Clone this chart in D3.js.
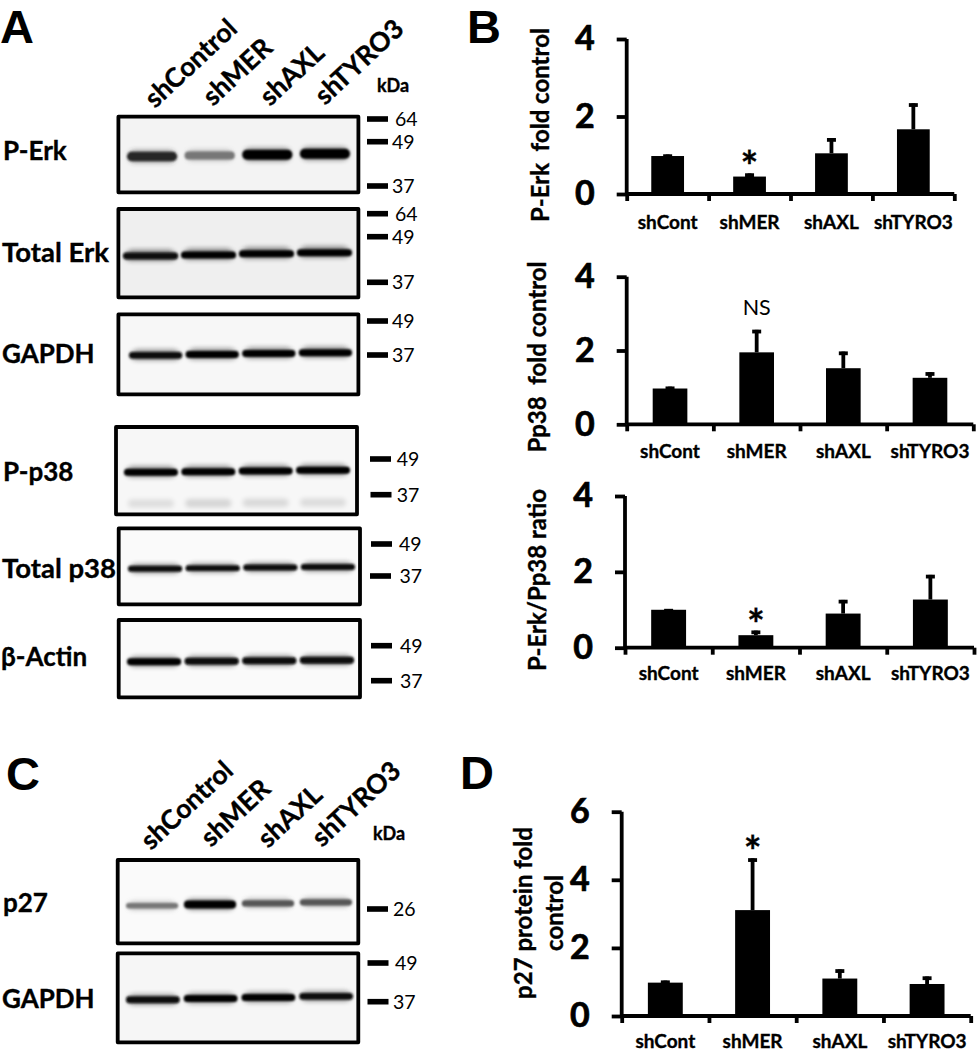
<!DOCTYPE html>
<html><head><meta charset="utf-8">
<style>
html,body{margin:0;padding:0;background:#fff}
svg{display:block}
text{font-family:Lato,"Open Sans",sans-serif;fill:#000;white-space:pre}
.b{font-weight:700;stroke:#000;stroke-width:.35px}
.l{font-family:"Liberation Sans",sans-serif;font-weight:700}
</style>
<script src="https://cdn.jsdelivr.net/npm/d3@7"></script>
</head><body><svg id="c" width="978" height="1050"></svg>
<script>
// ---------- data ----------
const groups = ["shCont","shMER","shAXL","shTYRO3"];
const lanes = ["shControl","shMER","shAXL","shTYRO3"];
const pErkMeans = [0.98,0.45,1.05,1.67];
const pErkTops  = [1.02,0.53,1.44,2.34];
const pp38Means = [0.97,1.95,1.52,1.26];
const pp38Tops  = [1.02,2.56,1.97,1.41];
const ratioMeans = [1.0,0.33,0.90,1.27];
const ratioTops  = [1.02,0.45,1.26,1.92];
const p27Means = [0.98,3.11,1.10,0.94];
const p27Tops  = [1.04,4.63,1.37,1.16];
const ticks4 = [0,2,4];
const ticks6 = [0,2,4,6];
// blot band intensities, one per lane (0 = absent, 1 = saturated)
const pErkBands = [0.84,0.5,1,1];
const totalErkBands = [0.97,1,1,0.99];
const gapdhBands = [0.95,0.98,0.98,0.99];
const pP38Bands = [1,1,0.99,0.98];
const pP38LowerBands = [0.1,0.14,0.12,0.11];
const totalP38Bands = [0.96,0.96,0.95,0.95];
const actinBands = [0.98,0.96,0.96,0.97];
const p27Bands = [0.5,1,0.64,0.64];
const gapdh2Bands = [0.96,1,1,0.94];

// ---------- layout ----------
const svg = d3.select("#c");
const defs = svg.append("defs");
defs.append("filter").attr("id","blur").attr("x","-10%").attr("y","-100%").attr("width","120%").attr("height","300%")
  .append("feGaussianBlur").attr("stdDeviation",1.0);
defs.append("filter").attr("id","blurWide").attr("x","-10%").attr("y","-200%").attr("width","120%").attr("height","500%")
  .append("feGaussianBlur").attr("stdDeviation",2.4);

const tone = d3.scaleLinear().domain([0,0.5,1]).range(["#f2f2f2","#777","#000"]);

function blot(o){
  const g = svg.append("g");
  const w=o.x1-o.x0, h=o.y1-o.y0;
  const id="clip"+Math.round(o.x0)+Math.round(o.y0);
  defs.append("clipPath").attr("id",id).append("rect").attr("x",o.x0).attr("y",o.y0).attr("width",w).attr("height",h);
  const inner=g.append("g").attr("clip-path",`url(#${id})`);
  inner.append("rect").attr("x",o.x0).attr("y",o.y0).attr("width",w).attr("height",h).attr("fill",o.bg||"#f7f7f7");
  const x=d3.scaleBand().domain(lanes).range(o.range).paddingInner(o.pad);
  const y=d3.scaleLinear().domain([0,3]).range(o.ys);
  const th=d3.scaleLinear().domain([0,1]).range([o.thin||4,o.thick||7]);
  const laneData=lanes.map((l,i)=>({l,i,v:o.values[i]}));
  inner.selectAll(null).data(laneData).join("rect")
    .attr("x",d=>x(d.l)+6).attr("width",x.bandwidth()-12)
    .attr("y",d=>y(d.i)-th(d.v)/2-(o.haloGap||3.5)).attr("height",5).attr("rx",2.5)
    .attr("fill","#000").attr("opacity",d=>(o.halo||0.13)*d.v).attr("filter","url(#blurWide)");
  inner.selectAll(null).data(laneData).join("rect")
    .attr("x",d=>x(d.l)+2).attr("width",x.bandwidth()-4)
    .attr("y",d=>y(d.i)-th(d.v)/2-1.5).attr("height",d=>th(d.v)+3).attr("rx",5)
    .attr("fill",d=>tone(d.v)).attr("opacity",0.4).attr("filter","url(#blurWide)");
  inner.selectAll(null).data(laneData).join("rect")
    .attr("x",d=>x(d.l)).attr("width",x.bandwidth())
    .attr("y",d=>y(d.i)-th(d.v)/2).attr("height",d=>th(d.v)).attr("rx",d=>th(d.v)/2)
    .attr("fill",d=>tone(d.v)).attr("filter","url(#blur)");
  if(o.lower){
    const yl=d3.scaleLinear().domain([0,3]).range(o.lowerYs);
    inner.selectAll(null).data(lanes.map((l,i)=>({l,i,v:o.lower[i]}))).join("rect")
      .attr("x",d=>x(d.l)+4).attr("width",x.bandwidth()-8)
      .attr("y",d=>yl(d.i)-4).attr("height",8).attr("rx",4)
      .attr("fill","#000").attr("opacity",d=>d.v).attr("filter","url(#blurWide)");
  }
  g.append("rect").attr("x",o.x0).attr("y",o.y0).attr("width",w).attr("height",h)
    .attr("fill","none").attr("stroke","#000").attr("stroke-width",3.8).attr("stroke-linejoin","round");
  svg.append("text").attr("class","b").attr("x",o.lx).attr("y",o.ly).attr("font-size",o.ls||26).text(o.label);
  const mk=svg.append("g");
  mk.selectAll("rect").data(o.marks).join("rect")
    .attr("x",d=>d.bx).attr("y",d=>d.y-2.8).attr("width",21).attr("height",5.6).attr("fill","#000");
  mk.selectAll("text").data(o.marks).join("text")
    .attr("x",d=>d.tx).attr("y",d=>d.y+7).attr("font-size",19.5).text(d=>d.t);
}

blot({label:"P-Erk",lx:3,ly:160,x0:118.4,x1:358.4,y0:116.7,y1:192.3,range:[127,350],ys:[156.5,153.7],pad:.13,values:pErkBands,thin:6,thick:10,bg:"#f3f3f3",halo:.03,
  marks:[{bx:367,y:119,tx:395,t:"64"},{bx:367,y:141.7,tx:392,t:"49"},{bx:367,y:186,tx:392,t:"37"}]});
blot({label:"Total Erk",ls:27.5,lx:2,ly:262,x0:118.4,x1:358.4,y0:209,y1:297.3,range:[123,352],ys:[256,252.7],pad:.05,values:totalErkBands,bg:"#efefef",halo:.2,
  marks:[{bx:367,y:213.7,tx:395,t:"64"},{bx:367,y:236.7,tx:392,t:"49"},{bx:367,y:282.3,tx:392,t:"37"}]});
blot({label:"GAPDH",lx:2,ly:363,x0:118.4,x1:358.4,y0:314.4,y1:394.3,range:[129,352],ys:[355.3,352.7],pad:.06,values:gapdhBands,bg:"#f7f7f7",
  marks:[{bx:367,y:321,tx:392,t:"49"},{bx:367,y:355,tx:392,t:"37"}]});
blot({label:"P-p38",lx:3,ly:481,x0:116,x1:357,y0:427,y1:514.3,range:[124,350],ys:[472.3,470.3],pad:.06,values:pP38Bands,lower:pP38LowerBands,lowerYs:[503.5,502.5],bg:"#f7f7f7",
  marks:[{bx:370,y:459,tx:396.7,t:"49"},{bx:370.5,y:494.7,tx:396.7,t:"37"}]});
blot({label:"Total p38",ls:27.5,lx:2,ly:578,x0:118.7,x1:360,y0:528.4,y1:604.3,range:[128,355],ys:[568.7,567],pad:.06,values:totalP38Bands,bg:"#fafafa",halo:.05,thick:6,
  marks:[{bx:371,y:544,tx:399,t:"49"},{bx:370,y:576,tx:399.5,t:"37"}]});
blot({label:"β-Actin",lx:1,ly:666,x0:118.7,x1:360,y0:620,y1:697.3,range:[127,354],ys:[661.7,660.3],pad:.06,values:actinBands,bg:"#fafafa",halo:.05,
  marks:[{bx:371,y:645.7,tx:400,t:"49"},{bx:371,y:680.7,tx:400,t:"37"}]});
blot({label:"p27",lx:3,ly:912,x0:117.7,x1:358.3,y0:860,y1:943.3,range:[126,352],ys:[905.7,902.3],pad:.1,values:p27Bands,thin:3,thick:8,bg:"#fafafa",halo:.03,
  marks:[{bx:367,y:909,tx:393,t:"26"}]});
blot({label:"GAPDH",lx:2,ly:1008,x0:117.7,x1:358.3,y0:953.4,y1:1042.3,range:[126,353],ys:[999.7,996.3],pad:.07,values:gapdh2Bands,bg:"#f6f6f6",halo:.05,
  marks:[{bx:367.5,y:963,tx:395,t:"49"},{bx:367.5,y:1001.7,tx:393,t:"37"}]});

// panel letters
[["A",0,43],["B",467,43],["C",6,790],["D",460,789]].forEach(([t,x,y])=>
  svg.append("text").attr("class","l").attr("x",x).attr("y",y).attr("font-size",47).text(t));

function headers(pts,size){
  svg.append("g").selectAll("text").data(lanes).join("text").attr("class","b")
    .attr("font-size",size)
    .attr("transform",(d,i)=>`translate(${pts[i][0]},${pts[i][1]}) rotate(-43)`).text(d=>d);
}
headers([[155,109],[213,107],[270,107],[325,106]],26.5);
headers([[151,851],[211,848],[268,849],[322,848]],26.5);
svg.append("text").attr("class","b").attr("x",377).attr("y",92).attr("font-size",18).text("kDa");
svg.append("text").attr("class","b").attr("x",373).attr("y",840).attr("font-size",18).text("kDa");

function bars(o){
  const g=svg.append("g");
  const y=d3.scaleLinear().domain([0,o.max]).range([o.y0,o.y1]);
  const xe=d3.scaleLinear().domain([0,4]).range([o.x0,o.x1]);
  const x=d3.scaleBand().domain(groups).range([o.x0,o.x1]).paddingInner(0.6).paddingOuter(0.3);
  const data=groups.map((k,i)=>({k,m:o.means[i],t:o.tops[i]}));
  g.selectAll(null).data(data).join("line")
    .attr("x1",d=>x(d.k)+x.bandwidth()/2).attr("x2",d=>x(d.k)+x.bandwidth()/2)
    .attr("y1",d=>y(d.m)).attr("y2",d=>y(d.t)).attr("stroke","#000").attr("stroke-width",3.8);
  g.selectAll(null).data(data).join("line")
    .attr("x1",d=>x(d.k)+x.bandwidth()/2-4.5).attr("x2",d=>x(d.k)+x.bandwidth()/2+4.5)
    .attr("y1",d=>y(d.t)+1.7).attr("y2",d=>y(d.t)+1.7).attr("stroke","#000").attr("stroke-width",3.8);
  g.selectAll(null).data(data).join("rect")
    .attr("x",d=>x(d.k)).attr("width",x.bandwidth())
    .attr("y",d=>y(d.m)).attr("height",d=>y(0)-y(d.m)).attr("fill","#000");
  const ay=d3.axisLeft(y).tickValues(o.ticks).tickSize(10).tickPadding(o.pad).tickFormat(d3.format("d"));
  const gy=g.append("g").attr("transform",`translate(${o.x0},0)`).call(ay);
  gy.selectAll("text").attr("class","b").attr("font-size",34).style("stroke-width",".7px");
  const ae=d3.axisBottom(xe).tickValues([0,1,2,3,4]).tickSize(7).tickFormat("");
  const ge=g.append("g").attr("transform",`translate(0,${o.y0})`).call(ae);
  [gy,ge].forEach(s=>{s.select(".domain").attr("stroke","#000").attr("stroke-width",3.8);s.selectAll("line").attr("stroke","#000").attr("stroke-width",3.8);s.attr("font-family",null);});
  ge.select(".domain").attr("d",`M${o.x0},0H${o.x1}`);
  gy.select(".domain").attr("d",`M0,${o.y0}V${o.y1}`);
  const al=d3.axisBottom(x).tickSize(0).tickPadding(0);
  const gl=g.append("g").attr("transform",`translate(0,${o.labelY})`).call(al);
  gl.select(".domain").remove();
  gl.attr("font-family",null);
  gl.selectAll("text").attr("class","b").attr("font-size",19).attr("dy",0).attr("y",0);
  o.title.forEach(t=>svg.append("text").attr("class","b").attr("font-size",24).attr("text-anchor","middle")
    .attr("transform",`translate(${t.x},${t.y}) rotate(-90)`).text(t.s));
  const ci=groups.indexOf("shMER");
  const cx=x("shMER")+x.bandwidth()/2, cy=y(o.tops[ci]);
  if(o.note==="*") svg.append("text").attr("class","b").attr("x",cx).attr("y",cy+9).attr("font-size",42).attr("text-anchor","middle").text("*");
  else svg.append("text").attr("x",cx).attr("y",cy-14.5).attr("font-size",21.5).attr("text-anchor","middle").text(o.note);
}
bars({max:4,ticks:ticks4,means:pErkMeans,tops:pErkTops,x0:626.7,x1:954.3,y0:194,y1:39,pad:22,labelY:228.7,note:"*",
  title:[{s:"P-Erk  fold control",x:549,y:125}]});
bars({max:4,ticks:ticks4,means:pp38Means,tops:pp38Tops,x0:626.7,x1:973.3,y0:424.3,y1:276.7,pad:22,labelY:458,note:"NS",
  title:[{s:"Pp38  fold control",x:546,y:357}]});
bars({max:4,ticks:ticks4,means:ratioMeans,tops:ratioTops,x0:625,x1:974,y0:647.7,y1:496,pad:22,labelY:680,note:"*",
  title:[{s:"P-Erk/Pp38 ratio",x:546,y:580}]});
bars({max:6,ticks:ticks6,means:p27Means,tops:p27Tops,x0:621.7,x1:970.7,y0:1016,y1:811.7,pad:22,labelY:1047.5,note:"*",
  title:[{s:"p27 protein fold",x:532,y:913},{s:"control",x:563,y:913}]});
</script></body></html>
